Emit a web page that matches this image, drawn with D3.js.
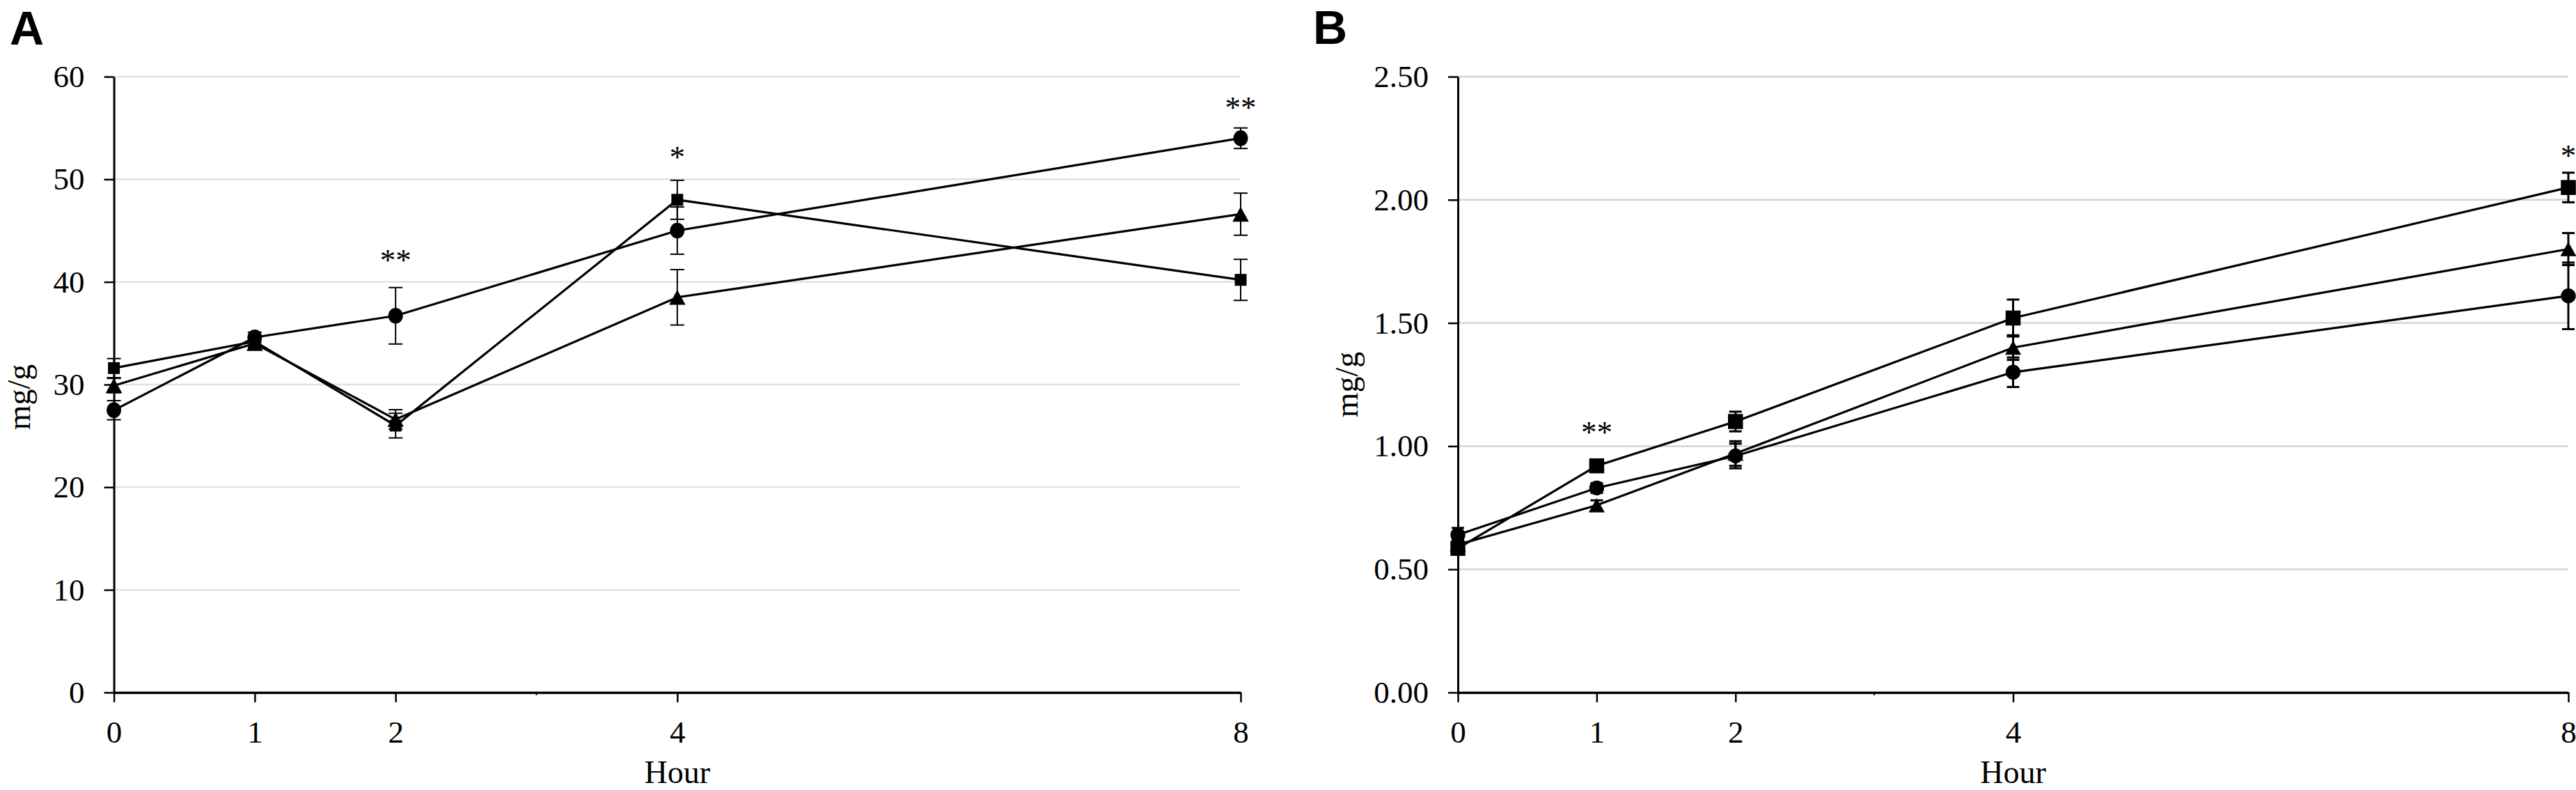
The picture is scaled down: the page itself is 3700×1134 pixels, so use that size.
<!DOCTYPE html>
<html>
<head>
<meta charset="utf-8">
<script src="https://cdn.jsdelivr.net/npm/d3@7"></script>
<style>
  body { margin: 0; background: #fff; }
  text { font-family: "Liberation Serif", "Times New Roman", serif; fill: #000; }
  .panel-label { font-family: "Liberation Sans", Arial, sans-serif; font-weight: bold; }
</style>
</head>
<body>
<script>
// hours on the x axis
const hours = [0, 1, 2, 4, 8];

// panel A (mg/g), mean and error per hour
const aCircle      = [27.5, 34.6, 36.7, 45.0, 54.0];
const aCircleErr   = [0.93, 0.5, 2.75, 2.3, 1.0];
const aSquare      = [31.6, 34.2, 26.0, 48.0, 40.2];
const aSquareErr   = [0.93, 0.4, 1.2, 1.9, 2.0];
const aTriangle    = [29.9, 34.0, 26.6, 38.5, 46.6];
const aTriangleErr = [0.7, 0.4, 0.95, 2.7, 2.05];
const aTicks = [0, 10, 20, 30, 40, 50, 60];
const aStars = [{hour: 2, y: 41.1, text: "**"}, {hour: 4, y: 51.2, text: "*"}, {hour: 8, y: 56.0, text: "**"}];

// panel B (mg/g)
const bCircle      = [0.64, 0.83, 0.96, 1.30, 1.61];
const bCircleErr   = [0.028, 0.02, 0.05, 0.06, 0.135];
const bSquare      = [0.585, 0.92, 1.10, 1.52, 2.05];
const bSquareErr   = [0.02, 0.02, 0.04, 0.075, 0.06];
const bTriangle    = [0.60, 0.76, 0.97, 1.40, 1.80];
const bTriangleErr = [0.02, 0.02, 0.05, 0.05, 0.065];
const bTicks = [0, 0.5, 1, 1.5, 2, 2.5];
const bStars = [{hour: 1, y: 1.015, text: "**"}, {hour: 8, y: 2.138, text: "*"}];

const svg = d3.select("body").append("svg")
    .attr("width", 3700)
    .attr("height", 1134);

const panels = [
  {
    label: "A", labelX: 14, labelY: 64,
    x0: 163.6, x1: 1782, yMax: 60, ticks: aTicks, fmt: d3.format("d"),
    titleX: 43, titleY: 570, grid: "#e2e2e2", errW: 2, capW: 20,
    square: 17, circle: [10.5, 11.3], tri: [23.5, 21.5],
    series: [
      {shape: "circle", v: aCircle, e: aCircleErr},
      {shape: "triangle", v: aTriangle, e: aTriangleErr},
      {shape: "square", v: aSquare, e: aSquareErr}
    ],
    stars: aStars
  },
  {
    label: "B", labelX: 1886, labelY: 63,
    x0: 2094, x1: 3689, yMax: 2.5, ticks: bTicks, fmt: d3.format(".2f"),
    titleX: 1950, titleY: 552, grid: "#d4d4d4", errW: 3, capW: 18,
    square: 21.5, circle: [10.7, 10.7], tri: [23, 20.5],
    series: [
      {shape: "circle", v: bCircle, e: bCircleErr},
      {shape: "triangle", v: bTriangle, e: bTriangleErr},
      {shape: "square", v: bSquare, e: bSquareErr}
    ],
    stars: bStars
  }
];

panels.forEach(p => {
  const x = d3.scaleLinear().domain([0, 8]).range([p.x0, p.x1]);
  const y = d3.scaleLinear().domain([0, p.yMax]).range([994, 110]);
  const g = svg.append("g");

  // gridlines
  g.selectAll(".grid").data(p.ticks.filter(t => t > 0)).enter().append("line")
      .attr("x1", x(0)).attr("x2", x(8))
      .attr("y1", d => y(d)).attr("y2", d => y(d))
      .attr("stroke", p.grid).attr("stroke-width", 2.5);

  // y axis
  const yAxis = g.append("g")
      .attr("transform", `translate(${x(0)},0)`)
      .call(d3.axisLeft(y).tickValues(p.ticks).tickFormat(p.fmt)
        .tickSize(14).tickSizeOuter(0).tickPadding(28));
  yAxis.select(".domain").attr("stroke-width", 3);
  yAxis.selectAll(".tick line").attr("stroke-width", 2.5);
  yAxis.selectAll("text").attr("font-size", 45)
      .style("font-family", '"Liberation Serif", serif');

  // x axis
  const xAxis = g.append("g")
      .attr("transform", `translate(0,${y(0)})`)
      .call(d3.axisBottom(x).tickValues(hours).tickFormat(d3.format("d"))
        .tickSize(14).tickSizeOuter(0).tickPadding(26));
  xAxis.select(".domain").attr("stroke-width", 3.5);
  xAxis.selectAll(".tick line").attr("stroke-width", 2.5);
  xAxis.selectAll("text").attr("font-size", 45)
      .style("font-family", '"Liberation Serif", serif');
  // tiny minor tick at 3
  g.append("line")
      .attr("x1", x(3)).attr("x2", x(3))
      .attr("y1", y(0)).attr("y2", y(0) + 4)
      .attr("stroke", "#000").attr("stroke-width", 2);

  // axis titles
  g.append("text")
      .attr("x", x(4)).attr("y", 1124)
      .attr("text-anchor", "middle")
      .attr("font-size", 46)
      .text("Hour");
  g.append("text")
      .attr("transform", `translate(${p.titleX},${p.titleY}) rotate(-90)`)
      .attr("text-anchor", "middle")
      .attr("font-size", 46)
      .text("mg/g");

  // panel letter
  svg.append("text")
      .attr("class", "panel-label")
      .attr("x", p.labelX).attr("y", p.labelY)
      .attr("font-size", 68)
      .text(p.label);

  const line = d3.line()
      .x((d, i) => x(hours[i]))
      .y(d => y(d));

  p.series.forEach(s => {
    // connecting line
    g.append("path")
        .datum(s.v)
        .attr("d", line)
        .attr("fill", "none")
        .attr("stroke", "#000")
        .attr("stroke-width", 3.2);

    // error bars
    const eb = g.append("g").selectAll("g").data(s.v).enter().append("g");
    eb.append("line")
        .attr("x1", (d, i) => x(hours[i])).attr("x2", (d, i) => x(hours[i]))
        .attr("y1", (d, i) => y(d + s.e[i])).attr("y2", (d, i) => y(d - s.e[i]))
        .attr("stroke", "#000").attr("stroke-width", p.errW);
    [1, -1].forEach(sign => {
      eb.append("line")
          .attr("x1", (d, i) => x(hours[i]) - p.capW / 2)
          .attr("x2", (d, i) => x(hours[i]) + p.capW / 2)
          .attr("y1", (d, i) => y(d + sign * s.e[i]))
          .attr("y2", (d, i) => y(d + sign * s.e[i]))
          .attr("stroke", "#000").attr("stroke-width", p.errW);
    });

    // markers
    const m = g.append("g").selectAll(".m").data(s.v).enter();
    if (s.shape === "circle") {
      m.append("ellipse")
          .attr("cx", (d, i) => x(hours[i])).attr("cy", d => y(d))
          .attr("rx", p.circle[0]).attr("ry", p.circle[1])
          .attr("fill", "#000");
    } else if (s.shape === "square") {
      m.append("rect")
          .attr("x", (d, i) => x(hours[i]) - p.square / 2)
          .attr("y", d => y(d) - p.square / 2)
          .attr("width", p.square).attr("height", p.square)
          .attr("fill", "#000");
    } else {
      const [w, h] = p.tri;
      m.append("path")
          .attr("d", (d, i) => {
            const cx = x(hours[i]), cy = y(d);
            return `M${cx},${cy - h / 2}L${cx + w / 2},${cy + h / 2}L${cx - w / 2},${cy + h / 2}Z`;
          })
          .attr("fill", "#000");
    }
  });

  // significance marks
  g.selectAll(".star").data(p.stars).enter().append("text")
      .attr("x", d => x(d.hour)).attr("y", d => y(d.y))
      .attr("text-anchor", "middle")
      .attr("font-size", 45)
      .text(d => d.text);
});
</script>
</body>
</html>
